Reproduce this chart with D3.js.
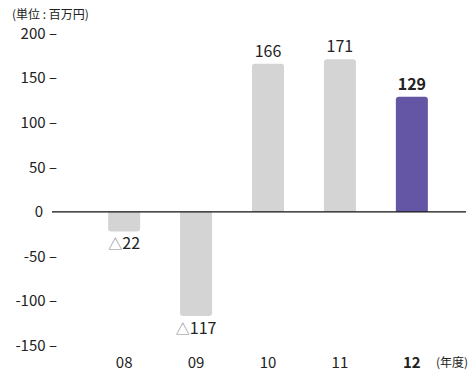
<!DOCTYPE html>
<html><head><meta charset="utf-8">
<script src="https://cdn.jsdelivr.net/npm/d3@7"></script>
<style>
body{margin:0;background:#fff;}
text{font-family:"Noto Sans CJK JP","Noto Sans",sans-serif;fill:#222;}
</style></head>
<body><svg id="c" width="468" height="374"></svg>
<script>
// 経常利益の推移（単位：百万円）
const years = ["08", "09", "10", "11", "12"];
const values = [-22, -117, 166, 171, 129];
const yTicks = [200, 150, 100, 50, 0, -50, -100, -150];
const highlightYear = "12";

const svg = d3.select("#c");
const y = d3.scaleLinear().domain([-150, 200]).range([345.5, 33.5]);
const x = d3.scaleBand().domain(years).range([88, 448]).paddingInner(0.555).paddingOuter(0.28);

// 縦軸ラベル
const yAxis = d3.axisLeft(y).tickValues(yTicks).tickSize(0).tickPadding(0).tickFormat(d => d === 0 ? "0" : d + " –");
const ga = svg.append("g").attr("transform", "translate(57,0)").call(yAxis);
ga.select(".domain").remove();
ga.selectAll("text").style("font-size", "15px").attr("fill", "#222")
  .attr("dx", d => d === 0 ? -14 : 0);

svg.append("text").attr("x", 12).attr("y", 19).style("font-size", "12px").text("(単位 : 百万円)");

// 棒
svg.selectAll("path.bar").data(values).enter().append("path")
  .attr("class", "bar")
  .attr("fill", (d, i) => years[i] === highlightYear ? "#6556a5" : "#d4d4d4")
  .attr("d", (d, i) => {
    const x0 = x(years[i]), w = x.bandwidth(), r = 3;
    const y0 = y(0), y1 = y(d);
    if (d >= 0) {
      return `M${x0},${y0}V${y1 + r}Q${x0},${y1} ${x0 + r},${y1}H${x0 + w - r}Q${x0 + w},${y1} ${x0 + w},${y1 + r}V${y0}Z`;
    }
    return `M${x0},${y0}V${y1 - r}Q${x0},${y1} ${x0 + r},${y1}H${x0 + w - r}Q${x0 + w},${y1} ${x0 + w},${y1 - r}V${y0}Z`;
  });

// ゼロ線
svg.append("line").attr("x1", 52).attr("x2", 466).attr("y1", y(0)).attr("y2", y(0))
  .attr("stroke", "#111").attr("stroke-width", 1.3);

// 値ラベル
const lab = svg.selectAll("text.val").data(values).enter().append("text")
  .attr("class", "val")
  .attr("x", (d, i) => x(years[i]) + x.bandwidth() / 2)
  .attr("y", d => d >= 0 ? y(d) - 7 : y(d) + 18)
  .attr("text-anchor", "middle")
  .style("font-size", "16px")
  .style("font-weight", (d, i) => years[i] === highlightYear ? "bold" : "normal");
lab.each(function(d) {
  const t = d3.select(this);
  if (d < 0) {
    t.append("tspan").attr("fill", "#888").style("font-size", "14px").text("△");
    t.append("tspan").text(Math.abs(d));
  } else {
    t.text(d);
  }
});

// 横軸ラベル
svg.selectAll("text.cat").data(years).enter().append("text")
  .attr("class", "cat")
  .attr("x", d => x(d) + x.bandwidth() / 2)
  .attr("y", 368)
  .attr("text-anchor", "middle")
  .style("font-size", "15px")
  .style("font-weight", d => d === highlightYear ? "bold" : "normal")
  .text(d => d);
svg.append("text").attr("x", 436).attr("y", 367).style("font-size", "12px").text("(年度)");
</script></body></html>
